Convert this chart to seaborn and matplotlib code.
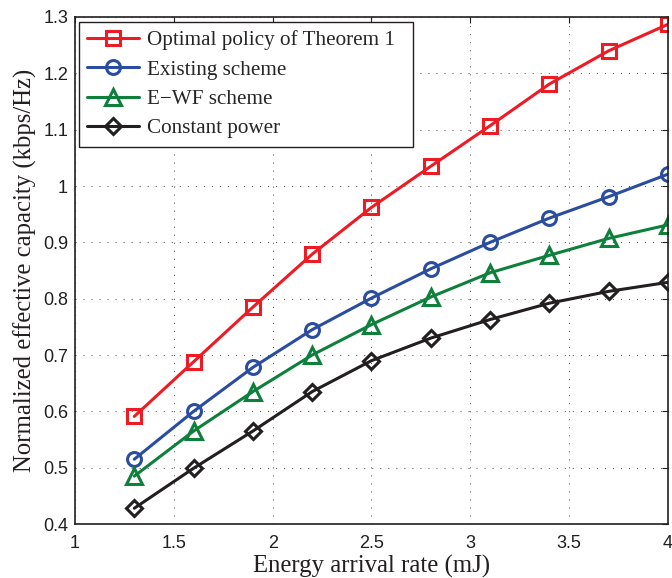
import matplotlib
matplotlib.use("Agg")
import matplotlib.pyplot as plt
import seaborn as sns
import pandas as pd

x_vals = [1.3, 1.6, 1.9, 2.2, 2.5, 2.8, 3.1, 3.4, 3.7, 4.0]
optimal = [0.591, 0.688, 0.785, 0.879, 0.962, 1.035, 1.107, 1.181, 1.240, 1.287]
existing = [0.515, 0.600, 0.678, 0.745, 0.801, 0.853, 0.900, 0.943, 0.981, 1.021]
ewf = [0.485, 0.565, 0.635, 0.700, 0.754, 0.803, 0.846, 0.877, 0.907, 0.931]
constant = [0.428, 0.499, 0.565, 0.635, 0.690, 0.730, 0.763, 0.792, 0.813, 0.829]
series_names = ["Optimal policy of Theorem 1", "Existing scheme", "E\u2212WF scheme", "Constant power"]
x_ticks = [1, 1.5, 2, 2.5, 3, 3.5, 4]
x_ticklabels = ["1", "1.5", "2", "2.5", "3", "3.5", "4"]
y_ticks = [0.4, 0.5, 0.6, 0.7, 0.8, 0.9, 1.0, 1.1, 1.2, 1.3]
y_ticklabels = ["0.4", "0.5", "0.6", "0.7", "0.8", "0.9", "1", "1.1", "1.2", "1.3"]

sns.set_theme(style="white")
plt.rcParams['font.family'] = ['Liberation Sans', 'DejaVu Sans']

df = pd.DataFrame({
    "x": x_vals * 4,
    "y": optimal + existing + ewf + constant,
    "series": sum([[n] * len(x_vals) for n in series_names], []),
})

colors = ["#ED1C24", "#2B4DA0", "#0F7F3C", "#231F20"]
markers = ["s", "o", "^", "D"]
msizes = [10, 10, 11, 8]

fig = plt.figure(figsize=(6.72, 5.78), dpi=100)
ax = fig.add_axes([0.1116, 0.0934, 0.8824, 0.8772])

for name, c, m, ms in zip(series_names, colors, markers, msizes):
    sub = df[df["series"] == name]
    sns.lineplot(data=sub, x="x", y="y", ax=ax, color=c, linewidth=2.2,
                 marker=m, markersize=ms, markerfacecolor="none",
                 markeredgecolor=c, markeredgewidth=2.2, label=name)

ax.set_xlim(1, 4)
ax.set_ylim(0.4, 1.3)
ax.set_xticks(x_ticks)
ax.set_xticklabels(x_ticklabels)
ax.set_yticks(y_ticks)
ax.set_yticklabels(y_ticklabels)
ax.tick_params(axis="both", labelsize=13, colors="#231F20", direction="in",
               length=4, width=0.8, top=True, right=True)
ax.tick_params(axis="x", pad=8)
ax.tick_params(axis="y", pad=5)
ax.grid(True, linestyle=(0, (1.0, 6.7)), color="#555555", linewidth=0.75)
for s in ax.spines.values():
    s.set_color("#231F20")
    s.set_linewidth(1.2)

ax.set_xlabel("Energy arrival rate (mJ)", fontsize=17.8, family=["Liberation Serif"], color="#231F20", labelpad=2)
ax.set_ylabel("Normalized effective capacity (kbps/Hz)", fontsize=17.8, family=["Liberation Serif"], color="#231F20", labelpad=4)

leg = ax.legend(loc="upper left", prop={"family": "Liberation Serif", "size": 15.2},
                frameon=True, fancybox=False, edgecolor="#231F20", framealpha=1,
                borderpad=0.4, labelspacing=0.45, handlelength=2.45, handletextpad=0.38,
                bbox_to_anchor=(0.0067, 0.0, 0.5633, 0.990), mode="expand",
                borderaxespad=0.0)
leg.get_frame().set_linewidth(1.0)

fig.savefig("out.png", dpi=100)
